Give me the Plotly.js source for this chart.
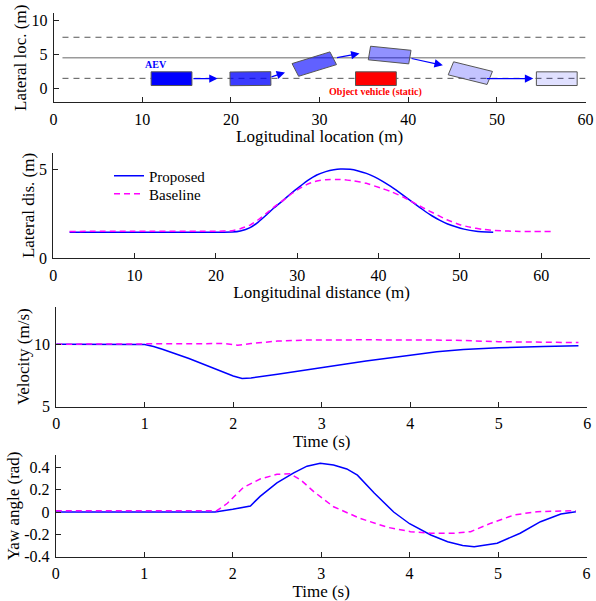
<!DOCTYPE html>
<html><head><meta charset="utf-8">
<script src="https://cdn.plot.ly/plotly-3.0.1.min.js"></script>
<style>html,body{margin:0;padding:0;background:#fff}</style>
</head><body><div id="chart" style="width:596px;height:601px"></div>
<script>
// ---------- Panel 1: scene ----------
const laneY = [1.5, 4.5, 7.5];
const laneX = [1, 60];
const carX = [13.3, 22.2, 29.4, 37.9, 47.0, 56.75];
const carY = [1.45, 1.45, 3.58, 4.9, 2.26, 1.45];
const carYaw = [0, 0.01, 0.38, -0.13, -0.31, 0];
const carAlpha = [1, 0.77, 0.62, 0.43, 0.23, 0.12];
const objX = 36.35, objY = 1.45;
const arrowFromX = [15.6, 24.4, 31.8, 40.2, 48.7];
const arrowFromY = [1.46, 1.65, 4.5, 4.45, 1.46];
const arrowToX = [18.5, 26.1, 34.5, 43.9, 54.1];
const arrowToY = [1.46, 2.36, 5.12, 3.41, 1.46];

// ---------- Panel 2: lateral distance ----------
const latPropX = [2, 10, 20, 22, 23, 24.2, 25.2, 26.2, 27.2, 28.3, 29.3, 30.3, 31.3, 32.4, 33.5, 34.5, 35.3, 36.5, 37.5, 38.5, 39.5, 40.5, 41.5, 42.5, 43.5, 44.5, 45.5, 46.5, 47.5, 48.5, 49.5, 50.5, 52, 54.1];
const latPropY = [1.47, 1.47, 1.47, 1.48, 1.54, 1.73, 2.05, 2.45, 2.87, 3.29, 3.69, 4.05, 4.40, 4.71, 4.90, 5.01, 5.05, 5.03, 4.94, 4.80, 4.60, 4.35, 4.06, 3.74, 3.40, 3.06, 2.73, 2.42, 2.16, 1.94, 1.78, 1.65, 1.53, 1.47];
const latBaseX = [2, 10, 20, 22, 23, 24.2, 25.2, 26.2, 27.2, 28.3, 29.3, 30.3, 31.3, 32.4, 33.5, 35.3, 37, 38.5, 40.2, 41.5, 43.1, 45.5, 48.4, 50, 51.3, 52.7, 54.1, 56, 57.4, 61.5];
const latBaseY = [1.52, 1.53, 1.53, 1.56, 1.67, 1.88, 2.18, 2.54, 2.92, 3.29, 3.65, 3.95, 4.20, 4.37, 4.44, 4.46, 4.37, 4.24, 3.98, 3.78, 3.45, 2.85, 2.18, 1.90, 1.75, 1.64, 1.58, 1.54, 1.52, 1.52];

// ---------- Panel 3: velocity ----------
const velPropT = [0, 0.9, 1.0, 1.1, 1.2, 1.5, 1.8, 2.0, 2.1, 2.2, 2.5, 3.0, 3.5, 4.0, 4.3, 4.6, 5.0, 5.5, 5.9];
const velPropV = [10, 10, 9.97, 9.82, 9.6, 8.85, 8.0, 7.45, 7.26, 7.3, 7.6, 8.15, 8.65, 9.12, 9.4, 9.58, 9.72, 9.81, 9.87];
const velBaseT = [0, 1.0, 1.9, 2.05, 2.2, 2.5, 2.8, 3.5, 4.0, 4.5, 5.0, 5.5, 5.9];
const velBaseV = [10, 10.05, 10.05, 9.92, 10.05, 10.25, 10.33, 10.35, 10.35, 10.32, 10.2, 10.15, 10.13];

// ---------- Panel 4: yaw angle ----------
const yawPropT = [0, 1.8, 2.0, 2.1, 2.2, 2.31, 2.5, 2.69, 2.84, 2.99, 3.14, 3.29, 3.41, 3.6, 3.82, 4.0, 4.24, 4.43, 4.6, 4.73, 4.99, 5.25, 5.48, 5.71, 5.88];
const yawPropY = [0, 0, 0.024, 0.04, 0.054, 0.14, 0.26, 0.35, 0.41, 0.435, 0.42, 0.385, 0.33, 0.17, 0.0, -0.105, -0.206, -0.266, -0.30, -0.31, -0.28, -0.19, -0.087, -0.018, 0.003];
const yawBaseT = [0, 1.82, 1.94, 2.12, 2.31, 2.5, 2.65, 2.77, 2.92, 3.14, 3.44, 3.75, 4.01, 4.24, 4.5, 4.69, 4.92, 5.18, 5.44, 5.88];
const yawBaseY = [0.012, 0.012, 0.078, 0.22, 0.295, 0.337, 0.343, 0.286, 0.18, 0.047, -0.057, -0.137, -0.176, -0.19, -0.19, -0.176, -0.10, -0.027, 0.003, 0.012];

const yawTicks = [-0.4, -0.2, 0, 0.2, 0.4];
const yawTickText = ['-0.4', '-0.2', '0', '0.2', '0.4'];

// ---------- styles ----------
const F = '"Liberation Serif", "Times New Roman", serif';
const CAR_L = 4.6, CAR_W = 2.0;
const BLUE = '#0000ff', MAG = '#ff00ff';

function rect(cx, cy, th) {
  const c = Math.cos(th), s = Math.sin(th);
  const pts = [[-CAR_L/2, -CAR_W/2], [CAR_L/2, -CAR_W/2], [CAR_L/2, CAR_W/2], [-CAR_L/2, CAR_W/2], [-CAR_L/2, -CAR_W/2]];
  return {x: pts.map(p => cx + p[0]*c - p[1]*s), y: pts.map(p => cy + p[0]*s + p[1]*c)};
}

const traces = [];
laneY.forEach((ly, i) => {
  traces.push({x: laneX, y: [ly, ly], mode: 'lines', xaxis: 'x', yaxis: 'y', showlegend: false, hoverinfo: 'skip',
    line: i === 1 ? {color: '#9a9a9a', width: 1.6} : {color: '#555', width: 1, dash: '6px,5px'}});
});
carX.forEach((cx, i) => {
  const r = rect(cx, carY[i], carYaw[i]);
  traces.push({x: r.x, y: r.y, mode: 'lines', fill: 'toself', fillcolor: 'rgba(0,0,255,' + carAlpha[i] + ')',
    line: {color: '#555', width: 1}, xaxis: 'x', yaxis: 'y', showlegend: false, hoverinfo: 'skip'});
});
(function(){
  const r = rect(objX, objY, 0);
  traces.push({x: r.x, y: r.y, mode: 'lines', fill: 'toself', fillcolor: '#ff0000',
    line: {color: '#555', width: 1}, xaxis: 'x', yaxis: 'y', showlegend: false, hoverinfo: 'skip'});
})();

traces.push({x: latPropX, y: latPropY, name: 'Proposed', mode: 'lines', line: {color: BLUE, width: 1.5, shape: 'spline', smoothing: 0.4}, xaxis: 'x2', yaxis: 'y2', legend: 'legend'});
traces.push({x: latBaseX, y: latBaseY, name: 'Baseline', mode: 'lines', line: {color: MAG, width: 1.5, dash: '6px,4px', shape: 'spline', smoothing: 0.4}, xaxis: 'x2', yaxis: 'y2', legend: 'legend2'});
traces.push({x: velPropT, y: velPropV, name: 'Proposed', mode: 'lines', line: {color: BLUE, width: 1.5}, xaxis: 'x3', yaxis: 'y3', showlegend: false});
traces.push({x: velBaseT, y: velBaseV, name: 'Baseline', mode: 'lines', line: {color: MAG, width: 1.5, dash: '6px,4px'}, xaxis: 'x3', yaxis: 'y3', showlegend: false});
traces.push({x: yawPropT, y: yawPropY, name: 'Proposed', mode: 'lines', line: {color: BLUE, width: 1.5}, xaxis: 'x4', yaxis: 'y4', showlegend: false});
traces.push({x: yawBaseT, y: yawBaseY, name: 'Baseline', mode: 'lines', line: {color: MAG, width: 1.5, dash: '6px,4px'}, xaxis: 'x4', yaxis: 'y4', showlegend: false});

const W = 596, H = 601;
const dx = (a, b) => [a / W, b / W];
const dy = (top, bot) => [1 - bot / H, 1 - top / H];

function axis(extra) {
  return Object.assign({
    showline: true, linecolor: '#222', linewidth: 1, ticks: 'inside', ticklen: 5, tickcolor: '#222',
    showgrid: false, zeroline: false, tickfont: {family: F, size: 16, color: '#000'},
    ticklabelstandoff: 2, fixedrange: true
  }, extra);
}
function xt(text, st) { return {text: text, font: {family: F, size: 17, color: '#000'}, standoff: st}; }

const annotations = [];
arrowToX.forEach((tx, i) => {
  annotations.push({x: tx, y: arrowToY[i], ax: arrowFromX[i], ay: arrowFromY[i], xref: 'x', yref: 'y', axref: 'x', ayref: 'y',
    showarrow: true, arrowhead: 2, arrowsize: 1.4, arrowwidth: 1.2, arrowcolor: BLUE, text: '', standoff: 0});
});
annotations.push({x: 11.6, y: 3.5, xref: 'x', yref: 'y', text: '<b>AEV</b>', showarrow: false,
  font: {family: F, size: 10, color: BLUE}});
annotations.push({x: objX, y: -0.45, xref: 'x', yref: 'y', text: '<b>Object vehicle (static)</b>', showarrow: false,
  font: {family: F, size: 10, color: '#ff0000'}});

const legendBase = {xanchor: 'left', yanchor: 'middle', bgcolor: 'rgba(0,0,0,0)',
  font: {family: F, size: 15, color: '#000'}, itemwidth: 30, borderwidth: 0};

const layout = {
  width: W, height: H, margin: {l: 0, r: 0, t: 0, b: 0},
  paper_bgcolor: '#fff', plot_bgcolor: 'rgba(0,0,0,0)',
  font: {family: F, color: '#000'},
  showlegend: true,
  legend: Object.assign({x: 109 / W, y: 1 - 176 / H}, legendBase),
  legend2: Object.assign({x: 109 / W, y: 1 - 194 / H}, legendBase),
  xaxis: axis({domain: dx(53.6, 585.6), range: [0, 60], tickvals: [0, 10, 20, 30, 40, 50, 60], anchor: 'y', title: xt('Logitudinal location (m)', 3)}),
  yaxis: axis({domain: dy(13.3, 102.3), range: [-2, 11], tickvals: [0, 5, 10], anchor: 'x', title: xt('Lateral loc. (m)', 0)}),
  xaxis2: axis({domain: dx(53.3, 590), range: [0, 66], tickvals: [0, 10, 20, 30, 40, 50, 60], anchor: 'y2', title: xt('Longitudinal distance (m)', 3)}),
  yaxis2: axis({domain: dy(152.7, 258.3), range: [0, 5.97], tickvals: [0, 5], anchor: 'x2', title: xt('Lateral dis. (m)', 0)}),
  xaxis3: axis({domain: dx(56.2, 587.3), range: [0, 6], tickvals: [0, 1, 2, 3, 4, 5, 6], anchor: 'y3', title: xt('Time (s)', 3)}),
  yaxis3: axis({domain: dy(306.7, 406.7), range: [5, 13], tickvals: [5, 10], anchor: 'x3', title: xt('Velocity (m/s)', 0)}),
  xaxis4: axis({domain: dx(55.8, 586.5), range: [0, 6], tickvals: [0, 1, 2, 3, 4, 5, 6], anchor: 'y4', title: xt('Time (s)', 0)}),
  yaxis4: axis({domain: dy(455, 556.7), range: [-0.4, 0.51], tickvals: yawTicks, ticktext: yawTickText, anchor: 'x4', title: xt('Yaw angle (rad)', 0)}),
  annotations: annotations
};

Plotly.newPlot('chart', traces, layout, {displayModeBar: false, staticPlot: true});
</script></body></html>
